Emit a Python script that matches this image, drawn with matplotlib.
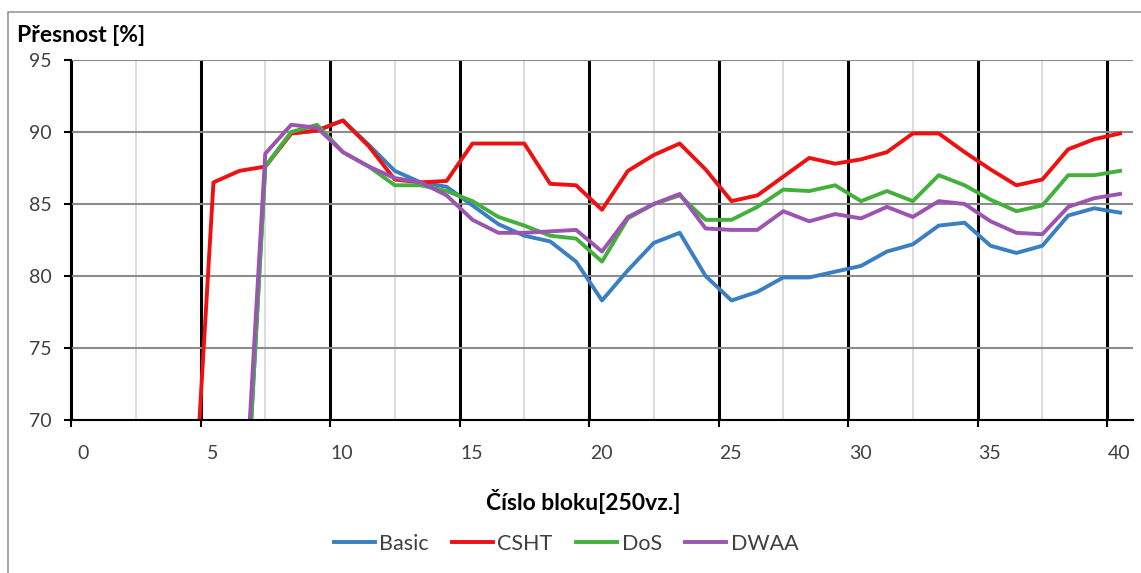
import numpy as np
import matplotlib.pyplot as plt
from matplotlib.ticker import MultipleLocator
from matplotlib.transforms import ScaledTranslation
from matplotlib.patches import Rectangle

plt.rcParams['font.family'] = ['Lato', 'DejaVu Sans']

# block number (points sit half-way between integer blocks)
blocks = [4.5, 5.5, 6.5, 7.5, 8.5, 9.5, 10.5, 11.5, 12.5, 13.5, 14.5, 15.5, 16.5,
          17.5, 18.5, 19.5, 20.5, 21.5, 22.5, 23.5, 24.5, 25.5, 26.5, 27.5, 28.5,
          29.5, 30.5, 31.5, 32.5, 33.5, 34.5, 35.5, 36.5, 37.5, 38.5, 39.5, 40.5]
nan = np.nan
basic = [nan, nan, 55.0, 87.6, 89.9, 90.1, 90.8, 89.1, 87.3, 86.5, 86.2, 84.9, 83.6,
         82.8, 82.4, 81.0, 78.3, 80.4, 82.3, 83.0, 80.0, 78.3, 78.9, 79.9, 79.9,
         80.3, 80.7, 81.7, 82.2, 83.5, 83.7, 82.1, 81.6, 82.1, 84.2, 84.7, 84.4]
csht = [56.0, 86.5, 87.3, 87.6, 89.9, 90.1, 90.8, 89.0, 86.7, 86.5, 86.6, 89.2, 89.2,
        89.2, 86.4, 86.3, 84.6, 87.3, 88.4, 89.2, 87.4, 85.2, 85.6, 86.9, 88.2,
        87.8, 88.1, 88.6, 89.9, 89.9, 88.6, 87.4, 86.3, 86.7, 88.8, 89.5, 89.9]
dos = [nan, nan, 55.0, 87.6, 90.0, 90.5, 88.6, 87.6, 86.3, 86.3, 85.9, 85.2, 84.1,
       83.5, 82.8, 82.6, 81.0, 84.0, 85.0, 85.6, 83.9, 83.9, 84.8, 86.0, 85.9,
       86.3, 85.2, 85.9, 85.2, 87.0, 86.3, 85.3, 84.5, 84.9, 87.0, 87.0, 87.3]
dwaa = [nan, nan, 57.5, 88.5, 90.5, 90.3, 88.6, 87.6, 86.8, 86.5, 85.6, 83.9, 83.0,
        83.0, 83.1, 83.2, 81.7, 84.1, 85.0, 85.7, 83.3, 83.2, 83.2, 84.5, 83.8,
        84.3, 84.0, 84.8, 84.1, 85.2, 85.0, 83.8, 83.0, 82.9, 84.8, 85.4, 85.7]

series = [("Basic", basic, "#3a7fc1"), ("CSHT", csht, "#ee1111"),
          ("DoS", dos, "#43b03c"), ("DWAA", dwaa, "#9b55b0")]

W, H = 1141, 573
fig = plt.figure(figsize=(W / 100, H / 100), dpi=100)
# outer chart frame (only left and top edges fall inside the picture)
fig.patches.append(Rectangle((8 / W, -10 / H), 1150 / W, 571 / H, transform=fig.transFigure,
                             fill=False, edgecolor="#9a9a9a", lw=1.2))

ax = fig.add_axes([71 / W, 1 - 420 / H, (1133 - 71) / W, 360 / H])
for name, vals, color in series:
    ax.plot(blocks, vals, color=color, lw=2.8, label=name)

ax.set_xlim(0, 41)
ax.set_ylim(70, 95)
ax.xaxis.set_major_locator(MultipleLocator(5))
ax.xaxis.set_minor_locator(MultipleLocator(2.5))
ax.yaxis.set_major_locator(MultipleLocator(5))
ax.grid(axis="x", which="major", color="black", lw=2.2)
ax.grid(axis="x", which="minor", color="#d6d6d6", lw=1.2)
ax.grid(axis="y", which="major", color="#8c8c8c", lw=1.5)
ax.set_axisbelow(True)

for s in ["top", "right"]:
    ax.spines[s].set_visible(False)
for s in ["left", "bottom"]:
    ax.spines[s].set_color("black")
    ax.spines[s].set_linewidth(1.5)

ax.tick_params(axis="x", which="minor", length=0)
ax.tick_params(axis="x", which="major", length=5, width=1.5, pad=13,
               labelsize=14, labelcolor="#404040")
ax.tick_params(axis="y", length=5, width=1.5, pad=9,
               labelsize=14, labelcolor="#404040")
for lab in ax.get_xticklabels():
    lab.set_transform(lab.get_transform() + ScaledTranslation(0.12, 0, fig.dpi_scale_trans))

fig.text(17 / W, 1 - 35 / H, "Přesnost [%]", fontsize=16.5, fontweight="bold", va="center")
fig.text(583 / W, 1 - 502 / H, "Číslo bloku[250vz.]", fontsize=16.5, fontweight="bold",
         ha="center", va="center")
fig.legend(loc="center", bbox_to_anchor=(566 / W, 1 - 544 / H), ncol=4, frameon=False,
           fontsize=15.5, handlelength=1.9, handletextpad=0.2, columnspacing=1.1,
           labelcolor="#404040")

fig.savefig("out.png", dpi=100)
